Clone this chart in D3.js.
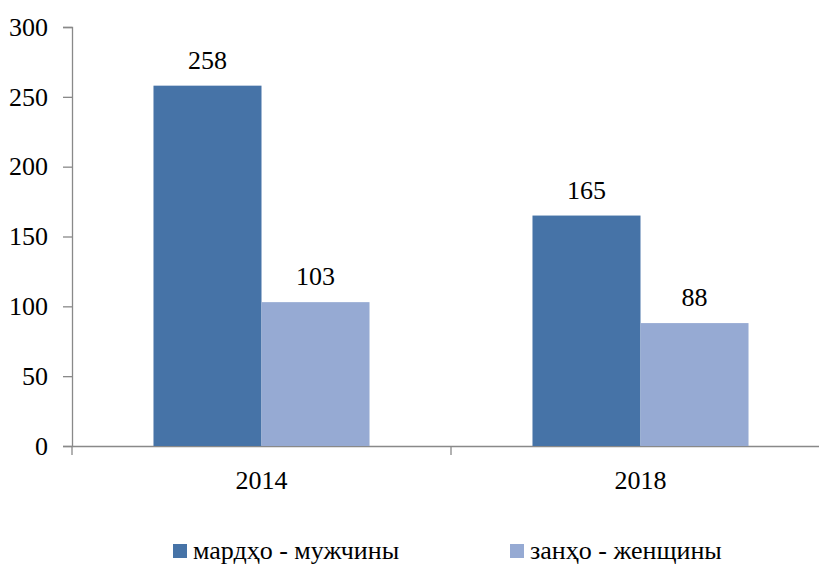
<!DOCTYPE html>
<html>
<head>
<meta charset="utf-8">
<script src="https://cdn.jsdelivr.net/npm/d3@7"></script>
<style>
  body { margin: 0; background: #fff; }
  #chart text { font-family: 'Liberation Serif', 'Times New Roman', serif !important; }
</style>
</head>
<body>
<svg id="chart" width="819" height="567"></svg>
<script>
const years = ['2014', '2018'];
const seriesNames = ['мардҳо - мужчины', 'занҳо - женщины'];
const men = [258, 165];
const women = [103, 88];
const yTicks = [0, 50, 100, 150, 200, 250, 300];
const colors = ['#4673A7', '#96AAD3'];

const FONT = "'Liberation Serif', 'Times New Roman', serif";
const FONT_SIZE = 26;
const width = 819, height = 567;
const margin = { top: 27, bottom: 121, left: 72, right: -11 };

const svg = d3.select('#chart');

const x = d3.scaleBand()
  .domain(years)
  .range([margin.left, width - margin.right])
  .paddingInner(0.43)
  .paddingOuter(0.215);

const xs = d3.scaleBand()
  .domain([0, 1])
  .range([0, x.bandwidth()]);

const y = d3.scaleLinear()
  .domain([0, 300])
  .range([height - margin.bottom, margin.top]);

// axes
const yAxis = svg.append('g')
  .attr('transform', `translate(${margin.left},0)`)
  .call(d3.axisLeft(y).tickValues(yTicks).tickSize(9).tickPadding(15));

const xAxis = svg.append('g')
  .attr('transform', `translate(0,${y(0)})`)
  .call(d3.axisBottom(x).tickSize(0).tickPadding(25));

// category boundary ticks
const step = x.step();
const bounds = [x(years[0]) - x.paddingOuter() * step, x(years[0]) + x.bandwidth() + x.paddingInner() * step / 2];
xAxis.selectAll('.bound').data(bounds).enter().append('line')
  .attr('class', 'bound')
  .attr('x1', d => d).attr('x2', d => d)
  .attr('y1', 0).attr('y2', 9);

svg.selectAll('.domain, .tick line, .bound')
  .attr('stroke', '#898989')
  .attr('stroke-width', 1.3);
svg.selectAll('.domain').attr('fill', 'none');

// bars
const rows = years.map((yr, i) => ({ year: yr, values: [men[i], women[i]] }));
const groups = svg.append('g').selectAll('g')
  .data(rows).enter().append('g')
  .attr('transform', d => `translate(${x(d.year)},0)`);

groups.selectAll('rect')
  .data(d => d.values.map((v, k) => ({ k: k, v: v })))
  .enter().append('rect')
  .attr('x', d => xs(d.k))
  .attr('width', xs.bandwidth())
  .attr('y', d => y(d.v))
  .attr('height', d => y(0) - y(d.v))
  .attr('fill', d => colors[d.k]);

groups.selectAll('.val')
  .data(d => d.values.map((v, k) => ({ k: k, v: v })))
  .enter().append('text')
  .attr('class', 'val')
  .attr('x', d => xs(d.k) + xs.bandwidth() / 2)
  .attr('y', d => y(d.v) - 17)
  .attr('text-anchor', 'middle')
  .text(d => d.v);

// legend
const legendX = [173, 510];
const legend = svg.append('g').selectAll('g')
  .data(seriesNames).enter().append('g')
  .attr('transform', (d, i) => `translate(${legendX[i]},544)`);
legend.append('rect')
  .attr('width', 14).attr('height', 14)
  .attr('fill', (d, i) => colors[i]);
legend.append('text')
  .attr('x', 20).attr('y', 15)
  .text(d => d);

svg.selectAll('g').attr('font-family', null).attr('font-size', null);
svg.selectAll('text')
  .attr('font-family', 'Liberation Serif')
  .attr('font-size', FONT_SIZE)
  .attr('fill', '#000')
  .style('font-family', FONT, 'important')
  .style('font-size', FONT_SIZE + 'px', 'important');
</script>
</body>
</html>
